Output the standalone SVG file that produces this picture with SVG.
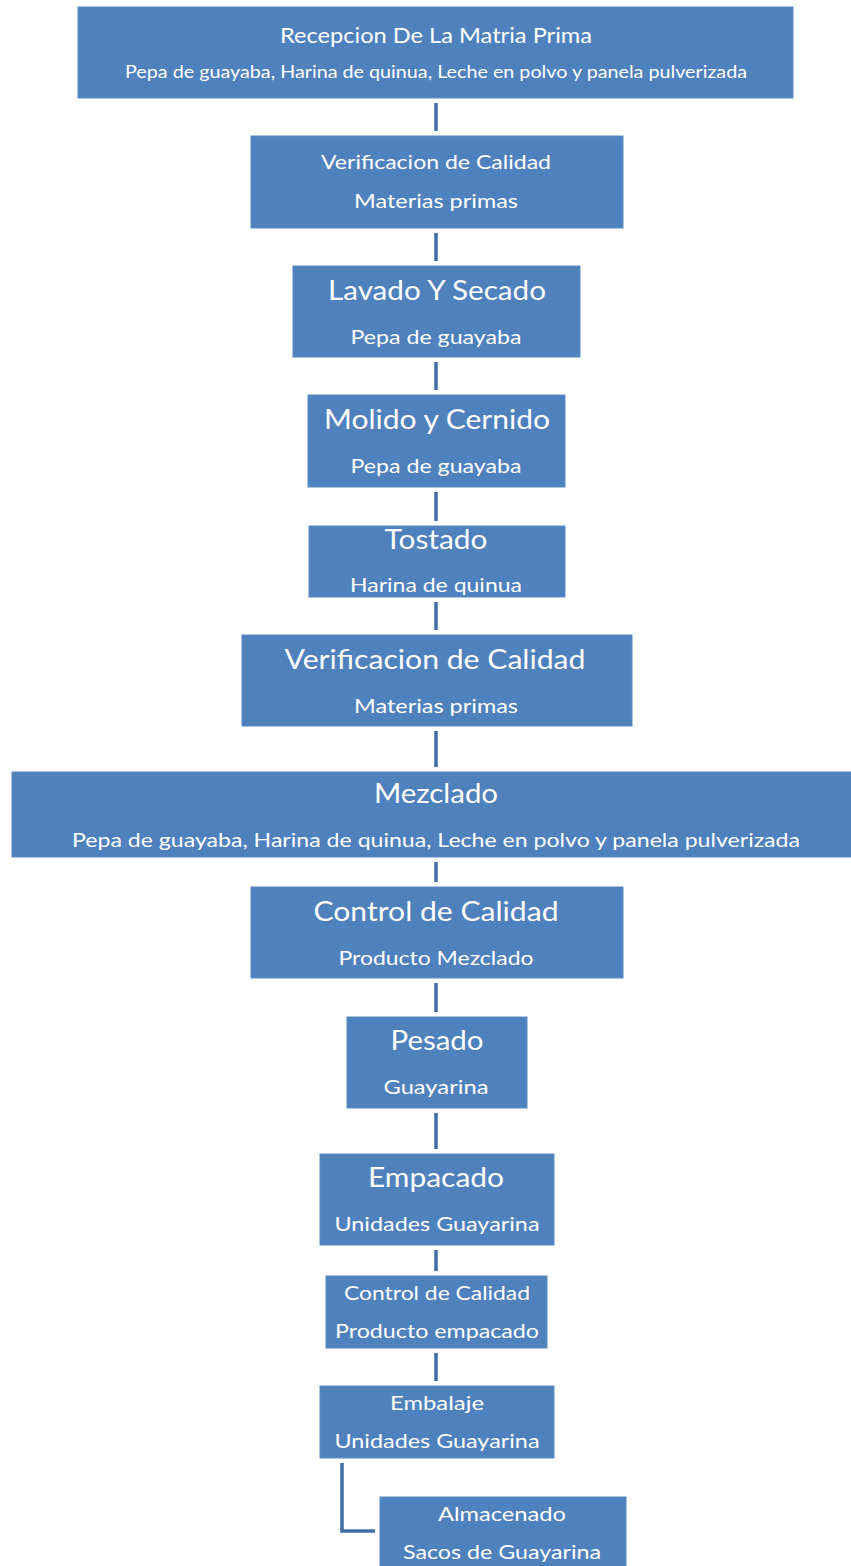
<svg xmlns="http://www.w3.org/2000/svg" width="851" height="1566" viewBox="0 0 851 1566">
  <style>
    .box { fill: #4F81BD; stroke: #5A8AC4; stroke-width: 1; }
    .t { font-family: Lato, "Open Sans", "Liberation Sans", sans-serif; fill: #FFFFFF; text-anchor: middle; }
    .link { fill: none; stroke: #3F6DA8; stroke-width: 3.5; }
  </style>
  <rect width="851" height="1566" fill="#FFFFFF"/>

  <!-- connectors between process steps -->
  <g id="connectors">
    <line class="link" x1="436" y1="103" x2="436" y2="131"/>
    <line class="link" x1="436" y1="233" x2="436" y2="261"/>
    <line class="link" x1="436" y1="362" x2="436" y2="390"/>
    <line class="link" x1="436" y1="492" x2="436" y2="521"/>
    <line class="link" x1="436" y1="602" x2="436" y2="630"/>
    <line class="link" x1="436" y1="731" x2="436" y2="767"/>
    <line class="link" x1="436" y1="862" x2="436" y2="882"/>
    <line class="link" x1="436" y1="983" x2="436" y2="1012"/>
    <line class="link" x1="436" y1="1113" x2="436" y2="1149"/>
    <line class="link" x1="436" y1="1250" x2="436" y2="1271"/>
    <line class="link" x1="436" y1="1353" x2="436" y2="1381"/>
    <polyline class="link" points="342,1463 342,1531 375,1531"/>
  </g>

  <g id="recepcion">
    <rect class="box" x="78" y="7" width="715" height="91"/>
    <text class="t" x="436" y="43" font-size="22" textLength="312" lengthAdjust="spacingAndGlyphs">Recepcion De La Matria Prima</text>
    <text class="t" x="436" y="78" font-size="18" textLength="622" lengthAdjust="spacingAndGlyphs">Pepa de guayaba, Harina de quinua, Leche en polvo y panela pulverizada</text>
  </g>

  <g id="verificacion1">
    <rect class="box" x="251" y="136" width="372" height="92"/>
    <text class="t" x="436" y="169" font-size="20" textLength="230" lengthAdjust="spacingAndGlyphs">Verificacion de Calidad</text>
    <text class="t" x="436" y="208" font-size="20" textLength="164" lengthAdjust="spacingAndGlyphs">Materias primas</text>
  </g>

  <g id="lavado">
    <rect class="box" x="293" y="266" width="287" height="91"/>
    <text class="t" x="437" y="300" font-size="26" textLength="218" lengthAdjust="spacingAndGlyphs">Lavado Y Secado</text>
    <text class="t" x="436" y="344" font-size="20" textLength="171" lengthAdjust="spacingAndGlyphs">Pepa de guayaba</text>
  </g>

  <g id="molido">
    <rect class="box" x="308" y="395" width="257" height="92"/>
    <text class="t" x="437" y="429" font-size="26" textLength="226" lengthAdjust="spacingAndGlyphs">Molido y Cernido</text>
    <text class="t" x="436" y="473" font-size="20" textLength="171" lengthAdjust="spacingAndGlyphs">Pepa de guayaba</text>
  </g>

  <g id="tostado">
    <rect class="box" x="309" y="526" width="256" height="71"/>
    <text class="t" x="436" y="549" font-size="26" textLength="103" lengthAdjust="spacingAndGlyphs">Tostado</text>
    <text class="t" x="436" y="592" font-size="20" textLength="172" lengthAdjust="spacingAndGlyphs">Harina de quinua</text>
  </g>

  <g id="verificacion2">
    <rect class="box" x="242" y="635" width="390" height="91"/>
    <text class="t" x="435" y="669" font-size="26" textLength="301" lengthAdjust="spacingAndGlyphs">Verificacion de Calidad</text>
    <text class="t" x="436" y="713" font-size="20" textLength="164" lengthAdjust="spacingAndGlyphs">Materias primas</text>
  </g>

  <g id="mezclado">
    <rect class="box" x="12" y="772" width="840" height="85"/>
    <text class="t" x="436" y="803" font-size="26" textLength="124" lengthAdjust="spacingAndGlyphs">Mezclado</text>
    <text class="t" x="436" y="847" font-size="20" textLength="728" lengthAdjust="spacingAndGlyphs">Pepa de guayaba, Harina de quinua, Leche en polvo y panela pulverizada</text>
  </g>

  <g id="control1">
    <rect class="box" x="251" y="887" width="372" height="91"/>
    <text class="t" x="436" y="921" font-size="26" textLength="245" lengthAdjust="spacingAndGlyphs">Control de Calidad</text>
    <text class="t" x="436" y="965" font-size="20" textLength="195" lengthAdjust="spacingAndGlyphs">Producto Mezclado</text>
  </g>

  <g id="pesado">
    <rect class="box" x="347" y="1017" width="180" height="91"/>
    <text class="t" x="437" y="1050" font-size="26" textLength="93" lengthAdjust="spacingAndGlyphs">Pesado</text>
    <text class="t" x="436" y="1094" font-size="20" textLength="105" lengthAdjust="spacingAndGlyphs">Guayarina</text>
  </g>

  <g id="empacado">
    <rect class="box" x="320" y="1154" width="234" height="91"/>
    <text class="t" x="436" y="1187" font-size="26" textLength="136" lengthAdjust="spacingAndGlyphs">Empacado</text>
    <text class="t" x="437" y="1231" font-size="20" textLength="205" lengthAdjust="spacingAndGlyphs">Unidades Guayarina</text>
  </g>

  <g id="control2">
    <rect class="box" x="326" y="1276" width="221" height="72"/>
    <text class="t" x="437" y="1300" font-size="20" textLength="186" lengthAdjust="spacingAndGlyphs">Control de Calidad</text>
    <text class="t" x="437" y="1338" font-size="20" textLength="204" lengthAdjust="spacingAndGlyphs">Producto empacado</text>
  </g>

  <g id="embalaje">
    <rect class="box" x="320" y="1386" width="234" height="72"/>
    <text class="t" x="437" y="1410" font-size="20" textLength="94" lengthAdjust="spacingAndGlyphs">Embalaje</text>
    <text class="t" x="437" y="1448" font-size="20" textLength="205" lengthAdjust="spacingAndGlyphs">Unidades Guayarina</text>
  </g>

  <g id="almacenado">
    <rect class="box" x="380" y="1497" width="246" height="72"/>
    <text class="t" x="502" y="1521" font-size="20" textLength="128" lengthAdjust="spacingAndGlyphs">Almacenado</text>
    <text class="t" x="502" y="1559" font-size="20" textLength="198" lengthAdjust="spacingAndGlyphs">Sacos de Guayarina</text>
  </g>
</svg>
